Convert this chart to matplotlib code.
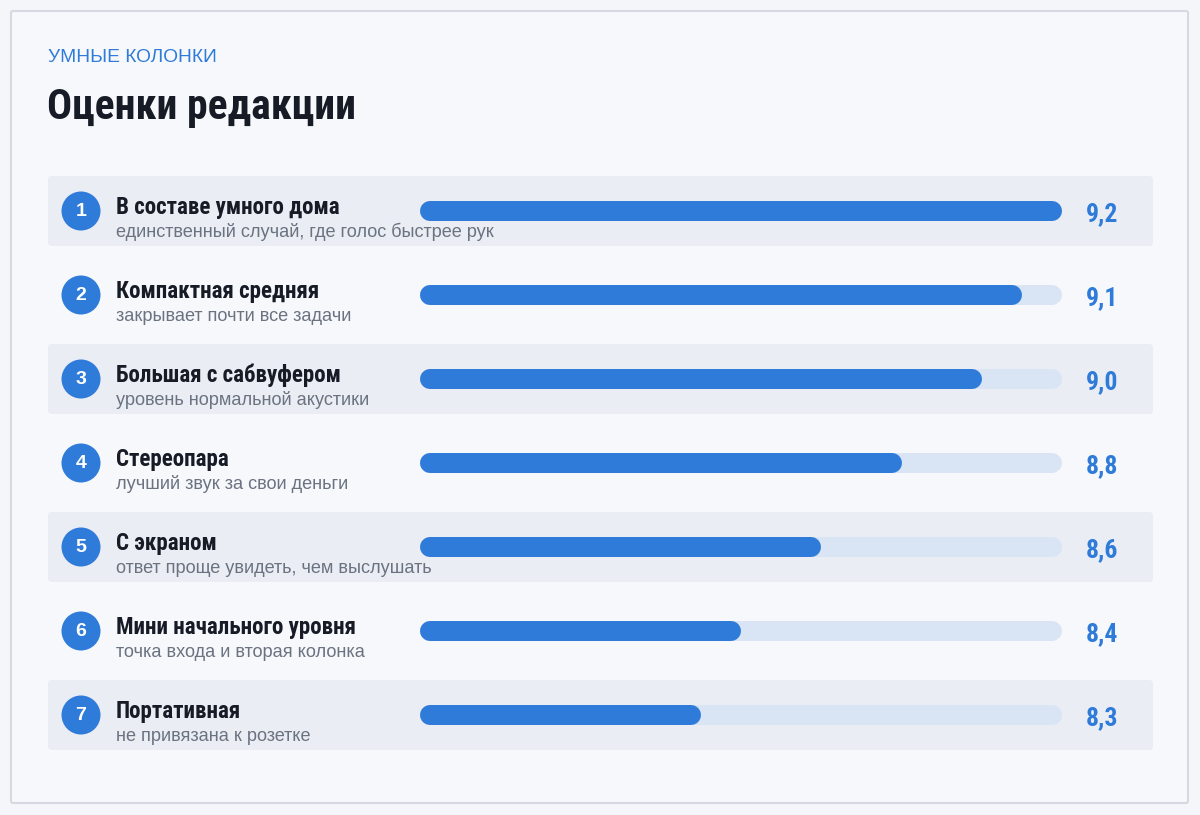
import matplotlib
matplotlib.use("Agg")
import matplotlib.pyplot as plt
from matplotlib.patches import FancyBboxPatch, Circle

# data
kicker = "УМНЫЕ КОЛОНКИ"
title = "Оценки редакции"
names = ["В составе умного дома", "Компактная средняя", "Большая с сабвуфером",
         "Стереопара", "С экраном", "Мини начального уровня", "Портативная"]
notes = ["единственный случай, где голос быстрее рук", "закрывает почти все задачи",
         "уровень нормальной акустики", "лучший звук за свои деньги",
         "ответ проще увидеть, чем выслушать", "точка входа и вторая колонка",
         "не привязана к розетке"]
scores = [9.2, 9.1, 9.0, 8.8, 8.6, 8.4, 8.3]
score_min, score_max = 7.6, 9.2

W, H = 1200, 815
blue = "#2f7bd9"
track = "#d9e4f4"
dark = "#161b26"
gray = "#6b7280"
rowbg = "#eaedf3"
head_font = ["Roboto Condensed", "Liberation Sans"]
body_font = ["Liberation Sans", "DejaVu Sans"]

fig = plt.figure(figsize=(W / 100, H / 100), dpi=100, facecolor="#f4f6f9")

# pixel canvas for the card layout
bg = fig.add_axes([0, 0, 1, 1])
bg.set_xlim(0, W)
bg.set_ylim(H, 0)
bg.axis("off")

bg.add_patch(FancyBboxPatch((11, 11), 1177, 792, boxstyle="round,pad=0,rounding_size=2",
                            facecolor="#f6f8fb", edgecolor="#d5d9e1", linewidth=1.5))

bg.text(48, 62, kicker, fontsize=13.8, color=blue, va="baseline", family=body_font)
bg.text(47, 119, title, fontsize=30, color=dark, va="baseline", fontweight="bold",
        family=head_font)

top, step = 169, 84
for i in range(len(names)):
    cy = top + step / 2 + step * i
    if i % 2 == 0:
        bg.add_patch(FancyBboxPatch((48, cy - 35), 1105, 70,
                                    boxstyle="round,pad=0,rounding_size=4",
                                    facecolor=rowbg, edgecolor="none"))
    bg.add_patch(Circle((81, cy), 19.5, facecolor=blue, edgecolor="none"))
    bg.text(81, cy + 1, str(i + 1), fontsize=14, color="white", fontweight="bold",
            ha="center", va="center", family=body_font)
    bg.text(116, cy + 3, names[i], fontsize=16.6, color=dark, fontweight="bold",
            va="baseline", family=head_font)
    bg.text(116, cy + 26, notes[i], fontsize=13.1, color=gray,
            va="baseline", family=body_font)

# bar axes with real score scale
x0, x1 = 420, 1062
bx = fig.add_axes([x0 / W, 1 - (top + step * 7) / H, (x1 - x0) / W, step * 7 / H])
bx.set_xlim(score_min, score_max)
bx.set_ylim(len(scores) - 0.5, -0.5)
bx.axis("off")
bx.patch.set_alpha(0)

lw_px = 20
cap = (score_max - score_min) * (lw_px / 2) / (x1 - x0)
lw_pt = lw_px * 72 / 100
for i, s in enumerate(scores):
    bx.plot([score_min + cap, score_max - cap], [i, i], color=track, lw=lw_pt,
            solid_capstyle="round")
    bx.plot([score_min + cap, s - cap], [i, i], color=blue, lw=lw_pt,
            solid_capstyle="round")
    bx.annotate(f"{s:.1f}".replace(".", ","), xy=(score_max, i), xytext=(24, -10),
                textcoords="offset pixels", ha="left", va="baseline", fontsize=18.5,
                fontweight="bold", color=blue, family=head_font)

fig.savefig("out.png", dpi=100, facecolor=fig.get_facecolor())
